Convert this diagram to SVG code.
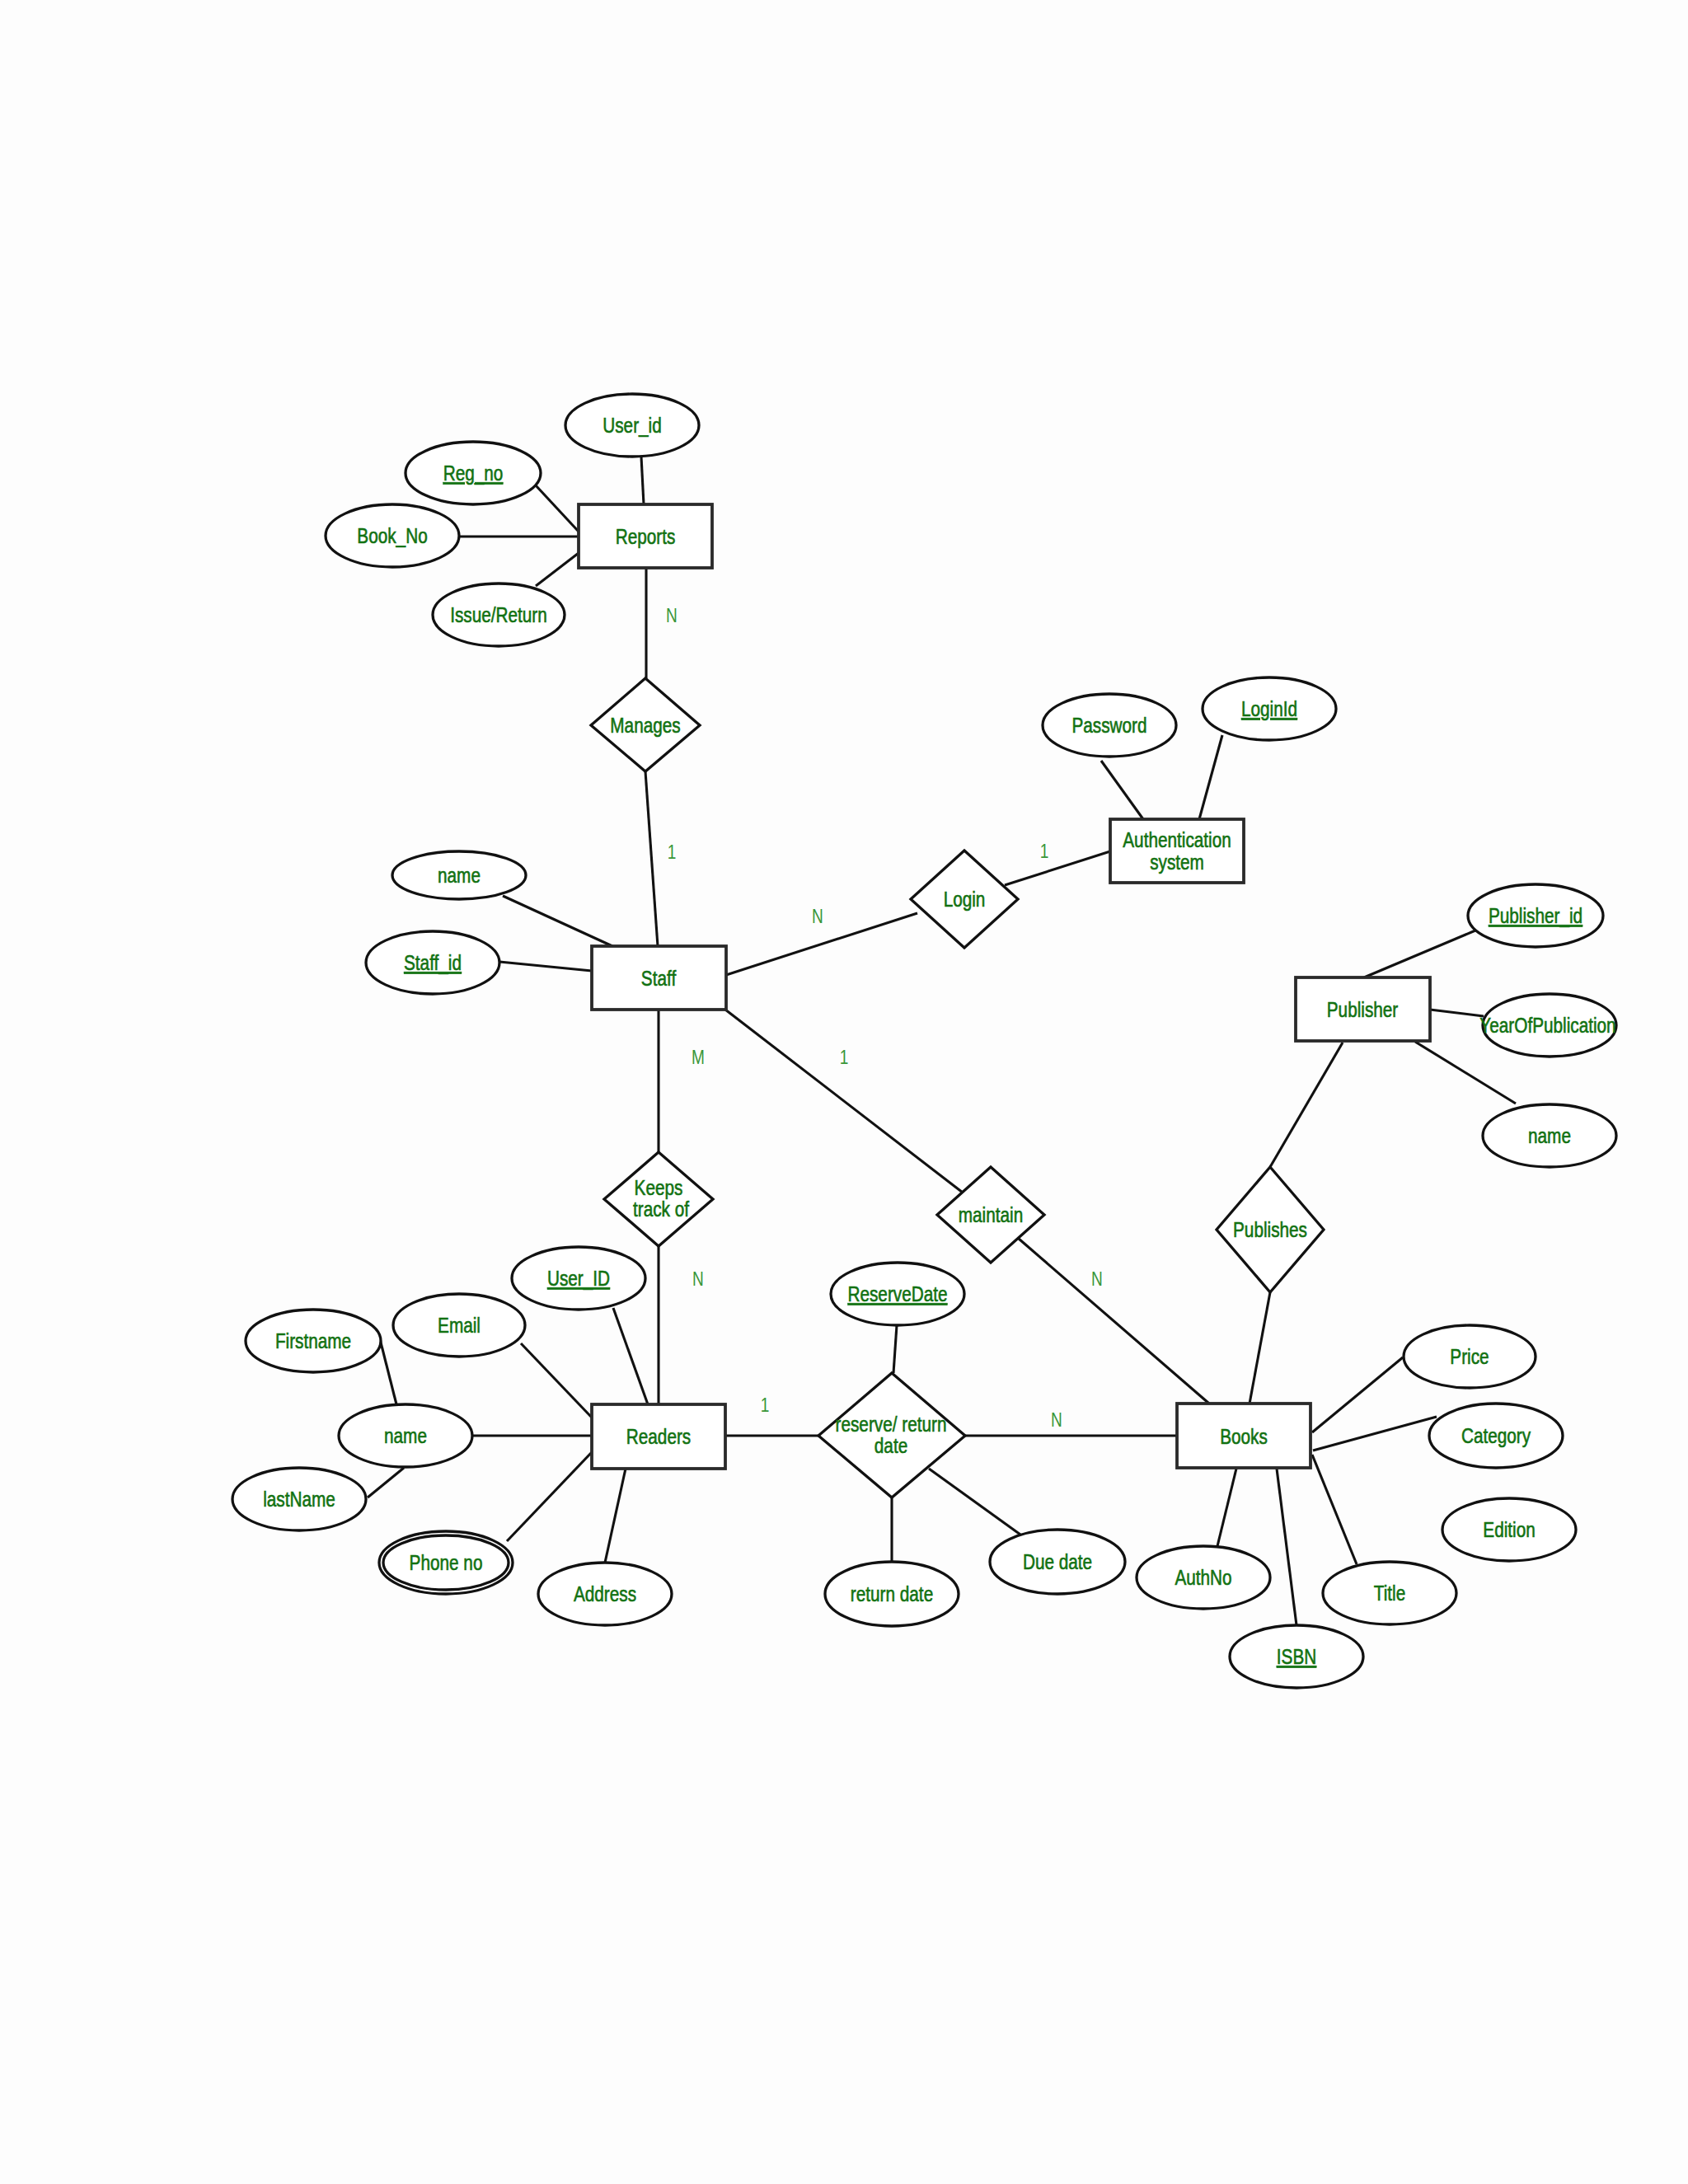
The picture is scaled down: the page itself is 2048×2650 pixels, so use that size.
<svg xmlns="http://www.w3.org/2000/svg" width="2048" height="2650" viewBox="0 0 2048 2650">
<style>
.e{fill:#fff;stroke:#111;stroke-width:3.3}
.r{fill:#fff;stroke:#2a2a2a;stroke-width:3.8}
.d{fill:#fff;stroke:#111;stroke-width:3.3;stroke-linejoin:miter}
.c line{stroke:#111;stroke-width:3.1}
.t{fill:#127212;stroke:#127212;stroke-width:0.6;font-family:"Liberation Sans",Arial,sans-serif;font-size:25px;text-anchor:middle}
.u{text-decoration:underline}
.l{fill:#3a963a;font-family:"Liberation Sans",Arial,sans-serif;font-size:23px;text-anchor:middle}
</style>
<rect width="2048" height="2650" fill="#fdfdfd"/>
<g id="connectors" class="c">
<line x1="778" y1="554" x2="781" y2="612"/>
<line x1="650" y1="589" x2="702" y2="645"/>
<line x1="557" y1="651" x2="702" y2="651"/>
<line x1="650" y1="711" x2="702" y2="671"/>
<line x1="784" y1="689" x2="784" y2="823"/>
<line x1="783" y1="936" x2="798" y2="1148"/>
<line x1="610" y1="1087" x2="743" y2="1148"/>
<line x1="606" y1="1167" x2="718" y2="1178"/>
<line x1="881" y1="1183" x2="1113" y2="1108"/>
<line x1="1219" y1="1074" x2="1347" y2="1033"/>
<line x1="1336" y1="923" x2="1387" y2="994"/>
<line x1="1483" y1="892" x2="1455" y2="994"/>
<line x1="799" y1="1225" x2="799" y2="1398"/>
<line x1="880" y1="1225" x2="1168" y2="1447"/>
<line x1="1236" y1="1503" x2="1467" y2="1703"/>
<line x1="799" y1="1512" x2="799" y2="1704"/>
<line x1="1790" y1="1129" x2="1655" y2="1186"/>
<line x1="1735" y1="1225" x2="1800" y2="1233"/>
<line x1="1717" y1="1264" x2="1839" y2="1339"/>
<line x1="1629" y1="1265" x2="1541" y2="1416"/>
<line x1="1541" y1="1568" x2="1516" y2="1703"/>
<line x1="744" y1="1587" x2="786" y2="1704"/>
<line x1="632" y1="1630" x2="718" y2="1720"/>
<line x1="461" y1="1625" x2="481" y2="1704"/>
<line x1="573" y1="1742" x2="718" y2="1742"/>
<line x1="446" y1="1817" x2="490" y2="1781"/>
<line x1="615" y1="1870" x2="718" y2="1762"/>
<line x1="734" y1="1896" x2="759" y2="1782"/>
<line x1="880" y1="1742" x2="993" y2="1742"/>
<line x1="1171" y1="1742" x2="1428" y2="1742"/>
<line x1="1088" y1="1608" x2="1084" y2="1666"/>
<line x1="1082" y1="1817" x2="1082" y2="1895"/>
<line x1="1127" y1="1782" x2="1238" y2="1862"/>
<line x1="1592" y1="1738" x2="1702" y2="1647"/>
<line x1="1593" y1="1760" x2="1743" y2="1719"/>
<line x1="1592" y1="1765" x2="1646" y2="1898"/>
<line x1="1549" y1="1782" x2="1573" y2="1972"/>
<line x1="1500" y1="1782" x2="1477" y2="1876"/>
</g>
<g id="cardinalities">
<text class="l" transform="translate(815 755) scale(.83 1)">N</text>
<text class="l" transform="translate(815 1042) scale(.83 1)">1</text>
<text class="l" transform="translate(992 1120) scale(.83 1)">N</text>
<text class="l" transform="translate(1267 1041) scale(.83 1)">1</text>
<text class="l" transform="translate(847 1291) scale(.83 1)">M</text>
<text class="l" transform="translate(1024 1291) scale(.83 1)">1</text>
<text class="l" transform="translate(847 1560) scale(.83 1)">N</text>
<text class="l" transform="translate(1331 1560) scale(.83 1)">N</text>
<text class="l" transform="translate(928 1713) scale(.83 1)">1</text>
<text class="l" transform="translate(1282 1731) scale(.83 1)">N</text>
</g>
<g id="reports"><rect class="r" x="702" y="612" width="162" height="77"/><text class="t" transform="translate(783 660) scale(.83 1)">Reports</text></g>
<g id="staff"><rect class="r" x="718" y="1148" width="163" height="77"/><text class="t" transform="translate(799 1196) scale(.83 1)">Staff</text></g>
<g id="auth"><rect class="r" x="1347" y="994" width="162" height="77"/><text class="t" transform="translate(1428 1028) scale(.83 1)">Authentication</text><text class="t" transform="translate(1428 1055) scale(.83 1)">system</text></g>
<g id="publisher"><rect class="r" x="1572" y="1186" width="163" height="77"/><text class="t" transform="translate(1653 1234) scale(.83 1)">Publisher</text></g>
<g id="readers"><rect class="r" x="718" y="1704" width="162" height="78"/><text class="t" transform="translate(799 1752) scale(.83 1)">Readers</text></g>
<g id="books"><rect class="r" x="1428" y="1703" width="162" height="78"/><text class="t" transform="translate(1509 1752) scale(.83 1)">Books</text></g>
<g id="manages"><polygon class="d" points="783,823 849,880 783,936 717,880"/><text class="t" transform="translate(783 889) scale(.83 1)">Manages</text></g>
<g id="login"><polygon class="d" points="1170,1032 1235,1091 1170,1150 1105,1091"/><text class="t" transform="translate(1170 1100) scale(.83 1)">Login</text></g>
<g id="keeps"><polygon class="d" points="799,1398 865,1455 799,1512 733,1455"/><text class="t" transform="translate(799 1450) scale(.83 1)">Keeps</text><text class="t" transform="translate(802 1476) scale(.83 1)">track of</text></g>
<g id="maintain"><polygon class="d" points="1202,1416 1267,1474 1202,1532 1137,1474"/><text class="t" transform="translate(1202 1483) scale(.83 1)">maintain</text></g>
<g id="publishes"><polygon class="d" points="1541,1416 1606,1492 1541,1568 1476,1492"/><text class="t" transform="translate(1541 1501) scale(.83 1)">Publishes</text></g>
<g id="reserve"><polygon class="d" points="1082,1666 1171,1742 1082,1817 993,1742"/><text class="t" transform="translate(1081 1737) scale(.83 1)">reserve/ return</text><text class="t" transform="translate(1081 1763) scale(.83 1)">date</text></g>
<g id="user_id"><ellipse class="e" cx="767" cy="516" rx="81" ry="38"/><text class="t" transform="translate(767 525) scale(.83 1)">User_id</text></g>
<g id="reg_no"><ellipse class="e" cx="574" cy="574" rx="82" ry="38"/><text class="t u" transform="translate(574 583) scale(.83 1)">Reg_no</text></g>
<g id="book_no"><ellipse class="e" cx="476" cy="650" rx="81" ry="38"/><text class="t" transform="translate(476 659) scale(.83 1)">Book_No</text></g>
<g id="issue_return"><ellipse class="e" cx="605" cy="746" rx="80" ry="38"/><text class="t" transform="translate(605 755) scale(.83 1)">Issue/Return</text></g>
<g id="staff_name"><ellipse class="e" cx="557" cy="1062" rx="81" ry="29"/><text class="t" transform="translate(557 1071) scale(.83 1)">name</text></g>
<g id="staff_id"><ellipse class="e" cx="525" cy="1168" rx="81" ry="38"/><text class="t u" transform="translate(525 1177) scale(.83 1)">Staff_id</text></g>
<g id="password"><ellipse class="e" cx="1346" cy="880" rx="81" ry="38"/><text class="t" transform="translate(1346 889) scale(.83 1)">Password</text></g>
<g id="loginid"><ellipse class="e" cx="1540" cy="860" rx="81" ry="38"/><text class="t u" transform="translate(1540 869) scale(.83 1)">LoginId</text></g>
<g id="publisher_id"><ellipse class="e" cx="1863" cy="1111" rx="82" ry="38"/><text class="t u" transform="translate(1863 1120) scale(.83 1)">Publisher_id</text></g>
<g id="yearofpub"><ellipse class="e" cx="1880" cy="1244" rx="81" ry="38"/><text class="t" transform="translate(1878 1253) scale(.83 1)">YearOfPublication</text></g>
<g id="pub_name"><ellipse class="e" cx="1880" cy="1378" rx="81" ry="38"/><text class="t" transform="translate(1880 1387) scale(.83 1)">name</text></g>
<g id="user_ID"><ellipse class="e" cx="702" cy="1551" rx="81" ry="38"/><text class="t u" transform="translate(702 1560) scale(.83 1)">User_ID</text></g>
<g id="email"><ellipse class="e" cx="557" cy="1608" rx="80" ry="38"/><text class="t" transform="translate(557 1617) scale(.83 1)">Email</text></g>
<g id="firstname"><ellipse class="e" cx="380" cy="1627" rx="82" ry="38"/><text class="t" transform="translate(380 1636) scale(.83 1)">Firstname</text></g>
<g id="reader_name"><ellipse class="e" cx="492" cy="1742" rx="81" ry="38"/><text class="t" transform="translate(492 1751) scale(.83 1)">name</text></g>
<g id="lastname"><ellipse class="e" cx="363" cy="1819" rx="81" ry="38"/><text class="t" transform="translate(363 1828) scale(.83 1)">lastName</text></g>
<g id="phone"><ellipse class="e" cx="541" cy="1896" rx="81" ry="38"/><ellipse class="e" cx="541" cy="1896" rx="76" ry="33"/><text class="t" transform="translate(541 1905) scale(.83 1)">Phone no</text></g>
<g id="address"><ellipse class="e" cx="734" cy="1934" rx="81" ry="38"/><text class="t" transform="translate(734 1943) scale(.83 1)">Address</text></g>
<g id="reservedate"><ellipse class="e" cx="1089" cy="1570" rx="81" ry="38"/><text class="t u" transform="translate(1089 1579) scale(.83 1)">ReserveDate</text></g>
<g id="return_date"><ellipse class="e" cx="1082" cy="1934" rx="81" ry="39"/><text class="t" transform="translate(1082 1943) scale(.83 1)">return date</text></g>
<g id="due_date"><ellipse class="e" cx="1283" cy="1895" rx="82" ry="39"/><text class="t" transform="translate(1283 1904) scale(.83 1)">Due date</text></g>
<g id="price"><ellipse class="e" cx="1783" cy="1646" rx="80" ry="38"/><text class="t" transform="translate(1783 1655) scale(.83 1)">Price</text></g>
<g id="category"><ellipse class="e" cx="1815" cy="1742" rx="81" ry="39"/><text class="t" transform="translate(1815 1751) scale(.83 1)">Category</text></g>
<g id="edition"><ellipse class="e" cx="1831" cy="1856" rx="81" ry="38"/><text class="t" transform="translate(1831 1865) scale(.83 1)">Edition</text></g>
<g id="title"><ellipse class="e" cx="1686" cy="1933" rx="81" ry="38"/><text class="t" transform="translate(1686 1942) scale(.83 1)">Title</text></g>
<g id="isbn"><ellipse class="e" cx="1573" cy="2010" rx="81" ry="38"/><text class="t u" transform="translate(1573 2019) scale(.83 1)">ISBN</text></g>
<g id="authno"><ellipse class="e" cx="1460" cy="1914" rx="81" ry="38"/><text class="t" transform="translate(1460 1923) scale(.83 1)">AuthNo</text></g>
</svg>
